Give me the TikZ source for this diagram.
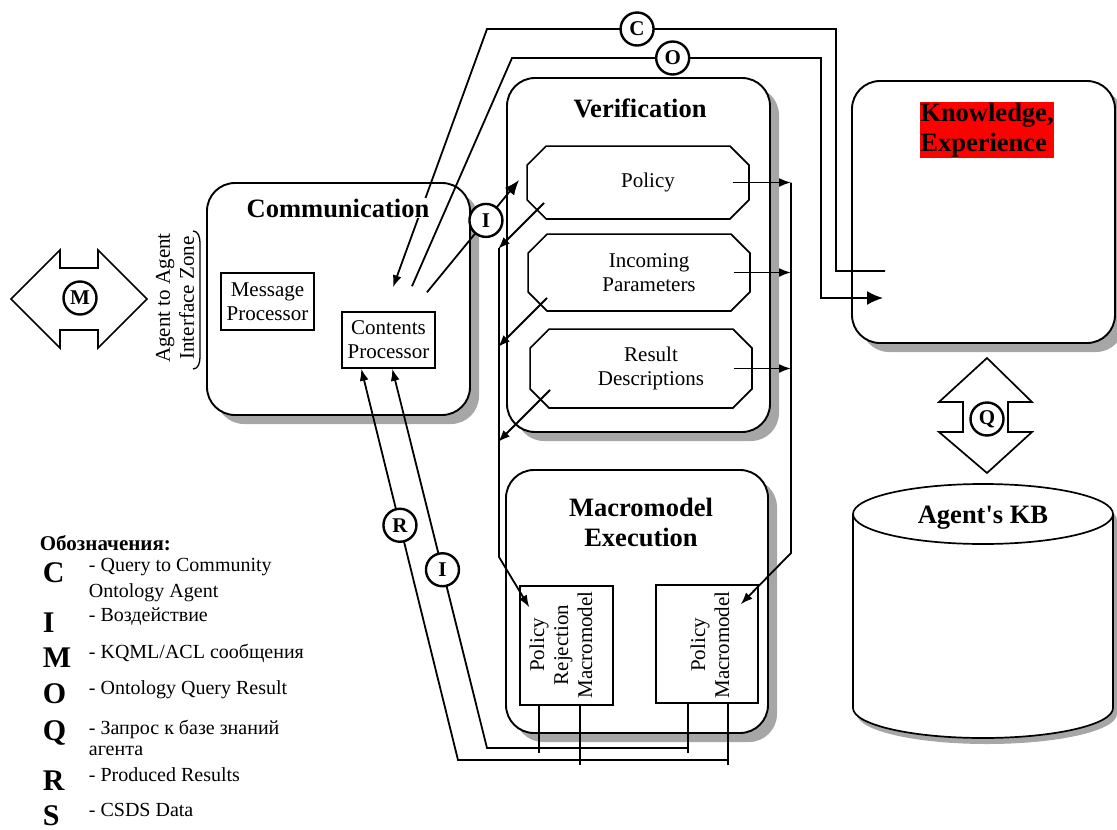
\documentclass[tikz,border=0pt]{standalone}
\usepackage{fontspec}
\setmainfont{Liberation Serif}
\usetikzlibrary{arrows.meta, shadows}

% font sizes
\newcommand\txtfont{\fontsize{21}{24}\selectfont}
\newcommand\hdfont{\fontsize{26.5}{30}\selectfont\bfseries}
\newcommand\legfont{\fontsize{20}{24}\selectfont}

% chamfered outline round a named node (outline sits 10pt left of the text)
\newcommand\octa[1]{%
  \draw[line width=1.7pt] ([xshift=9pt]#1.north west) -- ([xshift=-29pt]#1.north east)
    -- ([shift={(-10pt,-19pt)}]#1.north east) -- ([shift={(-10pt,19pt)}]#1.south east)
    -- ([xshift=-29pt]#1.south east) -- ([xshift=9pt]#1.south west)
    -- ([shift={(-10pt,19pt)}]#1.south west) -- ([shift={(-10pt,-19pt)}]#1.north west) -- cycle;}

\begin{document}
\begin{tikzpicture}[x=1pt, y=-1pt, line width=1.8pt,
  roundbox/.style={draw, line width=1.9pt, rounded corners=28pt, fill=white,
    drop shadow={shadow xshift=9pt, shadow yshift=-9pt, fill=gray!70, opacity=1}},
  pbox/.style={draw, line width=1.5pt, fill=white, align=center, font=\txtfont},
  oct/.style={align=center, font=\txtfont, inner sep=0pt},
  circ/.style={circle, draw, line width=2.4pt, fill=white, inner sep=0pt,
    minimum size=33pt, font=\fontsize{21}{21}\selectfont\bfseries},
  headtxt/.style={font=\hdfont, align=center, fill=white, inner sep=1pt},
  arr/.style={-{Latex[length=12pt,width=9pt]}},
  medarr/.style={-{Latex[length=15pt,width=12pt]}},
  bigarr/.style={-{Latex[length=16pt,width=14pt]}}]
\useasboundingbox (0,0) rectangle (1117,830);

% Draw the main blocks
\node[roundbox, minimum width=263pt, minimum height=232pt] (comm) at (338.5,299) {};
\node[roundbox, minimum width=263pt, minimum height=354pt] (verif) at (638.5,255) {};
\node[roundbox, minimum width=262pt, minimum height=263pt] (macro) at (637,601.5) {};
\node[roundbox, minimum width=263pt, minimum height=262pt] (know) at (983.5,212) {};

% Processors inside Communication
\node[pbox, minimum width=93pt, minimum height=57pt] (msg) at (267.5,301.5) {Message\\Processor};
\node[pbox, minimum width=93pt, minimum height=56pt] (cp) at (388.5,340) {Contents\\Processor};

% Macromodels
\node[pbox, minimum width=93pt, minimum height=119pt] (prm) at (566.5,645.5) {};
\node[rotate=90, align=center, font=\txtfont] (prm-t) at (561,645) {Policy\\Rejection\\Macromodel};
\node[pbox, minimum width=102pt, minimum height=118pt] (pm) at (707,644) {};
\node[rotate=90, align=center, font=\txtfont] (pm-t) at (710,645) {Policy\\Macromodel};

% Verification items
\node[oct, minimum width=220pt, minimum height=71pt] (pol) at (648,182.5) {Policy};
\node[oct, minimum width=220pt, minimum height=75pt] (inc) at (649,272.5) {Incoming\\Parameters};
\node[oct, minimum width=220pt, minimum height=77pt] (res) at (651,368.5) {Result\\Descriptions};
\octa{pol}\octa{inc}\octa{res}

% Agent's KB cylinder
\fill[gray!70] (857,520) -- (857,714) arc[start angle=180, end angle=360, x radius=130pt, y radius=30pt]
  -- (1117,520) arc[start angle=0, end angle=180, x radius=130pt, y radius=30pt] -- cycle;
\draw[line width=1.7pt, fill=white] (853,514) -- (853,708)
  arc[start angle=180, end angle=360, x radius=130pt, y radius=30pt]
  -- (1113,514) arc[start angle=0, end angle=180, x radius=130pt, y radius=30pt] -- cycle;
\draw[line width=1.7pt] (853,514) arc[start angle=180, end angle=360, x radius=130pt, y radius=30pt];
\node[font=\hdfont] (kb) at (983,518) {Agent\textquotesingle s KB};

% Double arrows
\draw[line width=1.7pt, fill=white] (987,358) -- (1032,402) -- (1008,402) -- (1008,432) -- (1032,432)
  -- (987,473) -- (939,432) -- (963,432) -- (963,402) -- (939,402) -- cycle;
\node[circ] (cQ) at (987,419) {Q};
\draw[line width=1.7pt, fill=white] (11,299) -- (60,250) -- (60,268) -- (98,268) -- (98,250)
  -- (147,299) -- (98,348) -- (98,330) -- (60,330) -- (60,348) -- cycle;
\node[circ] (cM) at (80,298) {M};

% Interface zone
\node[rotate=90, align=center, font=\txtfont] (zone) at (175,298) {Agent to Agent\\Interface Zone};
\draw[line width=1.3pt] (193,231) to[out=0,in=90] (200,243) -- (200,357) to[out=-90,in=0] (193,369);

% Buses of Verification
\coordinate (busL) at (499,0);
\coordinate (busR) at (791,0);
\foreach \n in {pol,inc}
  \draw[arr] ([xshift=-26pt]\n.east) -- (\n.east -| busR);
\draw[arr] ([xshift=-28pt]res.east) -- (res.east -| busR);
\draw[arr] (791,182.5) -- (791,553) -- ([shift={(-18pt,-20pt)}]pm.north east);
\draw[arr] ([shift={(7pt,16pt)}]pol.south west) -- ++(-46,46);
\draw[arr] ([shift={(9pt,13pt)}]inc.south west) -- ++(-49,49);
\draw[arr] ([shift={(10pt,18pt)}]res.south west) -- ++(-52,52);
\draw[arr] (499,248) -- (499,557) -- ([shift={(10pt,-22pt)}]prm.north west);

% Links to Knowledge, Experience
\draw[arr] (885,271) -- (836,271) -- (836,29) -- node[circ, pos=.57] (cC) {C} (487,29)
  -- ([shift={(4.5pt,24pt)}]cp.north);
\draw[bigarr] ([shift={(23.5pt,25pt)}]cp.north) -- (512,58) -- node[circ, pos=.52] (cO) {O} (821,58)
  -- (821,298) -- (883,298);
\draw[medarr] ([shift={(38.5pt,19pt)}]cp.north) -- node[circ, pos=.64] (cI1) {I}
  ([shift={(-18pt,2.5pt)}]pol.west);

% Results back to Contents Processor
\draw ([xshift=-27.5pt]prm.south) -- ++(0,47);
\draw ([xshift=13.5pt]prm.south) -- ++(0,59);
\draw ([xshift=-19pt]pm.south) -- ++(0,49);
\draw ([xshift=21pt]pm.south) -- ++(0,61);
\draw[arr] (728,760) -- (458,760) -- node[circ, pos=.6] (cR) {R} ([xshift=20pt]cp.south west);
\draw[arr] (688,748) -- (487,748) -- node[circ, pos=.47] (cI2) {I} ([xshift=51pt]cp.south west);

% Titles
\node[headtxt] (comm-t) at (338,208) {Communication};
\node[headtxt] (verif-t) at (640,108) {Verification};
\node[headtxt] (macro-t) at (641,522) {Macromodel\\Execution};
\node[font=\hdfont, align=left, fill=red, inner sep=0.5pt] (know-t) at (987,130) {Knowledge,\\Experience};

% Legend
\node[anchor=base west, font=\fontsize{21}{24}\selectfont\bfseries, inner sep=0pt] (leg) at (39,550) {Обозначения:};
\foreach \ltr/\yb in {C/582, I/632, M/667, O/703, Q/740, R/790, S/825}
  \node[anchor=base west, font=\fontsize{30}{30}\selectfont\bfseries, inner sep=0pt] (leg-\ltr) at (42,\yb) {\ltr};
\foreach \yb/\desc in {571/{- Query to Community}, 597/{Ontology Agent}, 621/{- Воздействие},
    658/{- KQML/ACL сообщения}, 694/{- Ontology Query Result}, 734/{- Запрос к базе знаний},
    755/{агента}, 781/{- Produced Results}, 816/{- CSDS Data}}
  \node[anchor=base west, font=\legfont, inner sep=0pt] (d-\yb) at (88,\yb) {\desc};
\end{tikzpicture}
\end{document}
